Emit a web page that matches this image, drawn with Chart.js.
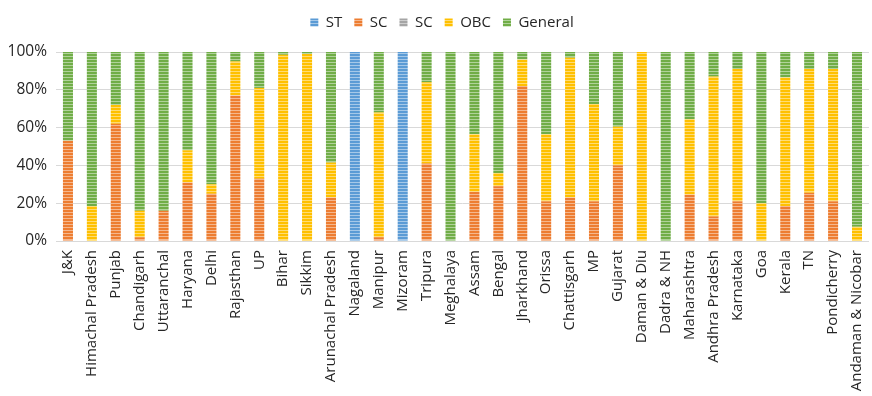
<!DOCTYPE html>
<html>
<head>
<meta charset="utf-8">
<script src="https://cdn.jsdelivr.net/npm/chart.js@4.4.0/dist/chart.umd.min.js"></script>
<style>
  html, body { margin: 0; padding: 0; background: #fff; overflow: hidden; }
  #wrap { width: 884px; height: 396px; position: relative; }
</style>
</head>
<body>
<div id="wrap"><canvas id="chart"></canvas></div>
<script>
// share of each group per state (%)
const states = ["J&K", "Himachal Pradesh", "Punjab", "Chandigarh", "Uttaranchal", "Haryana", "Delhi",
    "Rajasthan", "UP", "Bihar", "Sikkim", "Arunachal Pradesh", "Nagaland", "Manipur", "Mizoram",
    "Tripura", "Meghalaya", "Assam", "Bengal", "Jharkhand", "Orissa", "Chattisgarh", "MP", "Gujarat",
    "Daman & Diu", "Dadra & NH", "Maharashtra", "Andhra Pradesh", "Karnataka", "Goa", "Kerala", "TN",
    "Pondicherry", "Andaman & Nicobar"];

const st      = [0, 0, 0, 0, 0, 0, 0, 0, 0, 0, 0, 0, 100, 0, 100, 0, 0, 0, 0, 0, 0, 0, 0, 0, 0, 0, 0, 0, 0, 0, 0, 0, 0, 0];
const sc      = [53, 0, 62, 2, 16, 31, 25, 77, 33, 0, 0, 23, 0, 2, 0, 41, 0, 26, 29, 82, 21, 23, 21, 40, 0, 0, 24.5, 13, 21, 0, 18.5, 25.5, 21, 0];
const sc2     = [0, 0, 0, 0, 0, 0, 0, 0, 0, 0, 0, 0, 0, 0, 0, 0, 0, 0, 0, 0, 0, 0, 0, 0, 0, 0, 0, 0, 0, 0, 0, 0, 0, 0];
const obc     = [0, 18.5, 10, 14, 0, 17, 5, 18, 48, 98.5, 99, 18.5, 0, 66, 0, 43, 0, 30.5, 7, 14, 35.5, 74, 51.5, 20.5, 100, 0, 40, 74, 70, 20, 68, 65.5, 70, 7.5];
const general = [47, 81.5, 28, 84, 84, 52, 70, 5, 19, 1.5, 1, 58.5, 0, 32, 0, 16, 100, 43.5, 64, 4, 43.5, 3, 27.5, 39.5, 0, 100, 35.5, 13, 9, 80, 13.5, 9, 9, 92.5];

const yTicks = [0, 20, 40, 60, 80, 100];

// striped fill like the office pattern fill
function stripes(color) {
    var c = document.createElement('canvas');
    c.width = 4;
    c.height = 3;
    var g = c.getContext('2d');
    g.fillStyle = color;
    g.fillRect(0, 0, 4, 3);
    g.fillStyle = 'rgba(255,255,255,0.45)';
    g.fillRect(0, 2, 4, 1);
    return g.createPattern(c, 'repeat');
}

function serie(label, data, color) {
    return {
        label: label,
        data: data,
        backgroundColor: stripes(color),
        borderWidth: 0,
        barPercentage: 0.42,
        categoryPercentage: 1.0
    };
}

var dados = {
    labels: states,
    datasets: [
        serie('ST', st, '#5B9BD5'),
        serie('SC', sc, '#ED7D31'),
        serie('SC', sc2, '#A5A5A5'),
        serie('OBC', obc, '#FFC000'),
        serie('General', general, '#70AD47')
    ]
};

// extra room between the legend and the plot
var legendGap = {
    id: 'legendGap',
    beforeInit: function(chart) {
        var fit = chart.legend.fit;
        chart.legend.fit = function() {
            fit.bind(chart.legend)();
            this.height += 12;
        };
    }
};

var opcoes = {
    responsive: true,
    maintainAspectRatio: false,
    animation: false,
    layout: { padding: { top: 3, right: 0, left: 0, bottom: 0 } },
    plugins: {
        tooltip: { enabled: false },
        legend: {
            position: 'top',
            labels: {
                boxWidth: 8,
                boxHeight: 8,
                padding: 12,
                color: '#262626',
                font: { family: 'Open Sans', size: 15 }
            }
        }
    },
    scales: {
        x: {
            stacked: true,
            grid: { display: false, drawTicks: false },
            border: { color: '#D9D9D9' },
            ticks: {
                autoSkip: false,
                minRotation: 90,
                maxRotation: 90,
                padding: 9,
                color: '#262626',
                font: { family: 'Open Sans', size: 15 }
            },
            afterFit: function(scale) { scale.height = 155; }
        },
        y: {
            stacked: true,
            min: 0,
            max: 100,
            afterBuildTicks: function(scale) {
                scale.ticks = yTicks.map(function(v) { return { value: v }; });
            },
            grid: { color: '#D9D9D9', drawTicks: false },
            border: { display: false },
            ticks: {
                padding: 9,
                color: '#262626',
                font: { family: 'Open Sans', size: 15.5 },
                callback: function(v) { return v + '%'; }
            },
            afterFit: function(scale) { scale.width = 56; }
        }
    }
};

var ctx = document.getElementById('chart').getContext('2d');
var myChart = new Chart(ctx, { type: 'bar', data: dados, options: opcoes, plugins: [legendGap] });
</script>
</body>
</html>
